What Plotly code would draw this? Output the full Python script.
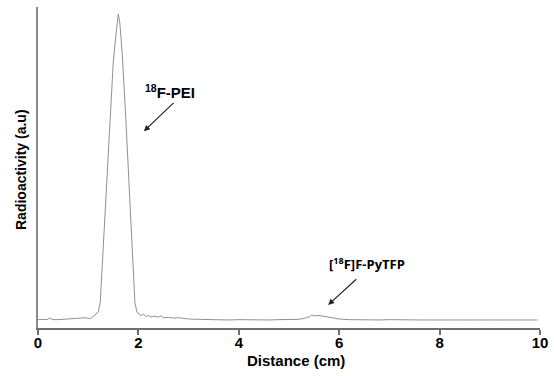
import plotly.graph_objects as go

# Distance (cm) and radioactivity (a.u.)
distance = [0.0, 0.1, 0.2, 0.22, 0.3, 0.4, 0.5, 0.6, 0.7, 0.8, 0.85, 0.9, 0.95, 1.0, 1.05,
            1.1, 1.15, 1.2, 1.24, 1.3, 1.4, 1.5, 1.55, 1.6, 1.63, 1.68, 1.75, 1.85, 1.93,
            1.97, 2.0, 2.05, 2.1, 2.15, 2.2, 2.25, 2.3, 2.4, 2.45, 2.5, 2.6, 2.7, 2.8, 2.9,
            3.0, 3.2, 3.4, 3.6, 3.8, 4.0, 4.2, 4.4, 4.6, 4.8, 5.0, 5.2, 5.35, 5.42, 5.45,
            5.5, 5.6, 5.7, 5.8, 5.9, 6.0, 6.2, 6.4, 6.6, 6.8, 7.0, 7.2, 7.4, 7.6, 7.8, 8.0,
            8.2, 8.4, 8.6, 8.8, 9.0, 9.2, 9.4, 9.6, 9.8, 9.95]
radioactivity = [2.6, 2.6, 2.7, 3.1, 2.6, 2.6, 2.7, 2.7, 2.8, 3.0, 2.9, 3.1, 3.2, 3.0, 2.9,
                 3.6, 4.3, 5.0, 8.0, 25.0, 55.0, 83.0, 91.0, 97.8, 95.0, 85.0, 65.0, 35.0, 8.0,
                 5.0, 4.6, 3.9, 4.3, 3.6, 3.9, 3.4, 3.7, 3.4, 3.8, 3.2, 3.3, 3.1, 3.2, 2.9,
                 2.8, 2.7, 2.6, 2.6, 2.5, 2.6, 2.5, 2.6, 2.5, 2.6, 2.6, 2.7, 3.2, 3.6, 4.1,
                 3.8, 3.9, 3.6, 3.4, 3.0, 2.8, 2.6, 2.5, 2.6, 2.5, 2.6, 2.5, 2.6, 2.5, 2.5, 2.6,
                 2.5, 2.5, 2.6, 2.5, 2.5, 2.6, 2.5, 2.5, 2.5, 2.5]

x_ticks = [0, 2, 4, 6, 8, 10]

W, H = 554, 376
L, R, T, B = 38, 14, 7, 48
PW, PH = W - L - R, H - T - B

fig = go.Figure()
fig.add_trace(go.Scatter(x=distance, y=radioactivity, mode="lines",
                         line=dict(color="#909090", width=1), showlegend=False,
                         hoverinfo="skip"))

fig.update_layout(
    width=W, height=H,
    margin=dict(l=L, r=R, t=T, b=B),
    paper_bgcolor="white", plot_bgcolor="white",
    font=dict(family="Liberation Sans, Arial, sans-serif", color="black"),
)
fig.update_xaxes(
    range=[0, 10], tickvals=x_ticks, ticktext=[f"<b>{t}</b>" for t in x_ticks],
    showline=True, linecolor="#6e6e6e", linewidth=2,
    ticks="outside", ticklen=5, tickcolor="#6e6e6e", tickwidth=1.5,
    ticklabelstandoff=-5,
    tickfont=dict(size=15, color="black"),
    showgrid=False, zeroline=False, automargin=False,
)
fig.update_yaxes(
    range=[0, 100], showticklabels=False, ticks="",
    showline=True, linecolor="#8a8a8a", linewidth=2,
    showgrid=False, zeroline=False, automargin=False,
)

# Axis titles
fig.add_annotation(x=(296 - L) / PW, y=-(360 - (H - B)) / PH,
                   xref="x domain", yref="y domain", showarrow=False,
                   xanchor="center", yanchor="middle",
                   text="<b>Distance (cm)</b>", font=dict(size=15, color="black"))
fig.add_annotation(x=-(L - 21) / PW, y=((H - B) - 170) / PH,
                   xref="x domain", yref="y domain", showarrow=False, textangle=-90,
                   xanchor="center", yanchor="middle",
                   text="<b>Radioactivity (a.u)</b>", font=dict(size=14, color="black"))

# Labels
fig.add_annotation(x=2.63, y=73.8, xref="x", yref="y", showarrow=False,
                   xanchor="center", yanchor="middle",
                   text="<b><sup>18</sup>F-PEI</b>", font=dict(size=15, color="black"))
fig.add_annotation(x=6.56, y=20.0, xref="x", yref="y", showarrow=False,
                   xanchor="center", yanchor="middle",
                   text="<b>[<sup>18</sup>F]F-PyTFP</b>",
                   font=dict(size=13, color="black", family="Open Sans, sans-serif"))
# Arrows
fig.add_annotation(x=2.11, y=61.3, ax=2.73, ay=70.6, xref="x", yref="y",
                   axref="x", ayref="y", text="", showarrow=True,
                   arrowhead=2, arrowsize=1, arrowwidth=1.2, arrowcolor="#222")
fig.add_annotation(x=5.78, y=7.2, ax=6.37, ay=15.6, xref="x", yref="y",
                   axref="x", ayref="y", text="", showarrow=True,
                   arrowhead=2, arrowsize=1, arrowwidth=1.2, arrowcolor="#222")

fig.write_html("out.html", config={"displayModeBar": False},
               post_script="document.body.style.margin='0';document.body.style.overflow='hidden';")
